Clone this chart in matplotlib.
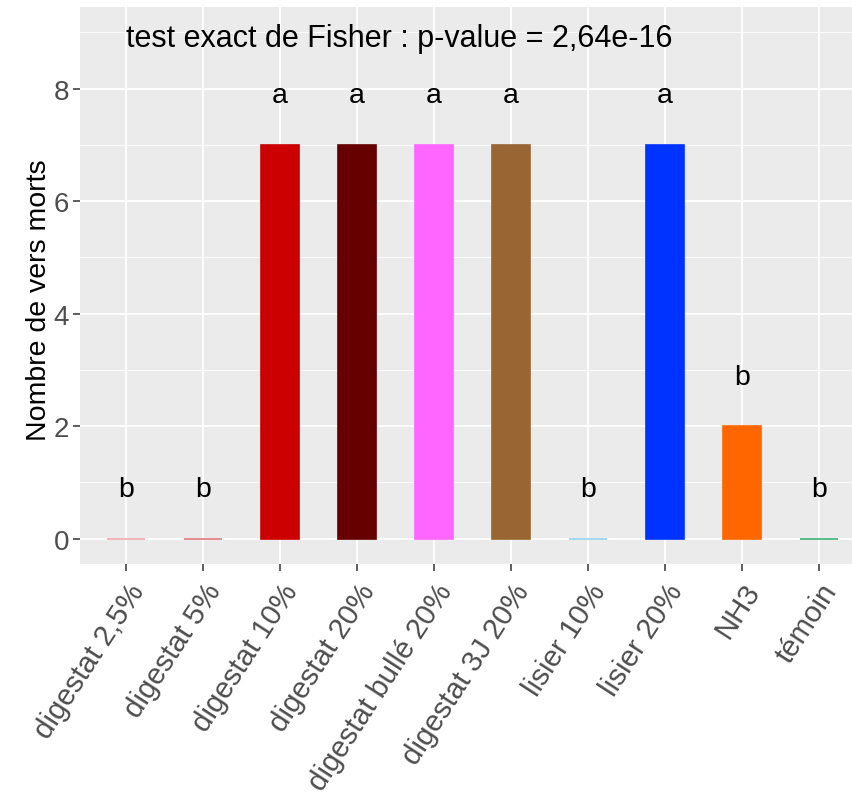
import matplotlib
matplotlib.use('Agg')
from matplotlib import pyplot as plt

plt.rcParams['font.family'] = ['Liberation Sans', 'DejaVu Sans']

# data
traitements = ['digestat 2,5%', 'digestat 5%', 'digestat 10%', 'digestat 20%',
               'digestat bullé 20%', 'digestat 3J 20%', 'lisier 10%', 'lisier 20%',
               'NH3', 'témoin']
morts = [0, 0, 7, 7, 7, 7, 0, 7, 2, 0]
groupes = ['b', 'b', 'a', 'a', 'a', 'a', 'b', 'a', 'b', 'b']
couleurs = ['#F2A7AE', '#E07878', '#CC0000', '#660000', '#FF66FF',
            '#996633', '#8FD3F0', '#0033FF', '#FF6600', '#3DB37A']
titre = 'test exact de Fisher : p-value = 2,64e-16'

fig = plt.figure(figsize=(8.53, 8.03), dpi=100)
ax = fig.add_axes([80 / 853, 238 / 803, 773 / 853, 557 / 803])
ax.set_facecolor('#EBEBEB')
for s in ax.spines.values():
    s.set_visible(False)

pos = list(range(1, len(traitements) + 1))
ax.bar(pos, morts, width=0.5, color=couleurs, edgecolor=couleurs, linewidth=1.2, zorder=3)

# compact letter display above each bar
for x, h, g in zip(pos, morts, groupes):
    ax.text(x, h + 0.88, g, ha='center', va='center', fontsize=20.5, color='black', zorder=4)

ax.text(4.55, 8.9, titre, ha='center', va='center', fontsize=22, color='black', zorder=4)

ax.set_xlim(0.4, 1 + (853 - 126) / 77)
ax.set_ylim(-0.45, 9.45)
ax.set_yticks([0, 2, 4, 6, 8])
ax.set_yticks([1, 3, 5, 7, 9], minor=True)
ax.set_xticks(pos)
ax.set_xticklabels(traitements, rotation=57, ha='right', rotation_mode='anchor')
ax.grid(which='major', color='white', linewidth=1.3, zorder=0)
ax.grid(which='minor', axis='y', color='white', linewidth=0.6, zorder=0)
ax.set_axisbelow(True)
ax.tick_params(axis='both', which='major', labelsize=20, labelcolor='#4D4D4D',
               color='#333333', length=5, width=1.1, pad=3)
ax.tick_params(axis='x', which='major', labelsize=21.2, pad=5)
ax.tick_params(axis='y', which='minor', length=0)
ax.set_ylabel('Nombre de vers morts', fontsize=20.5, color='black')
ax.yaxis.set_label_coords(-0.036, 0.475)

fig.savefig('out.png', dpi=100)
